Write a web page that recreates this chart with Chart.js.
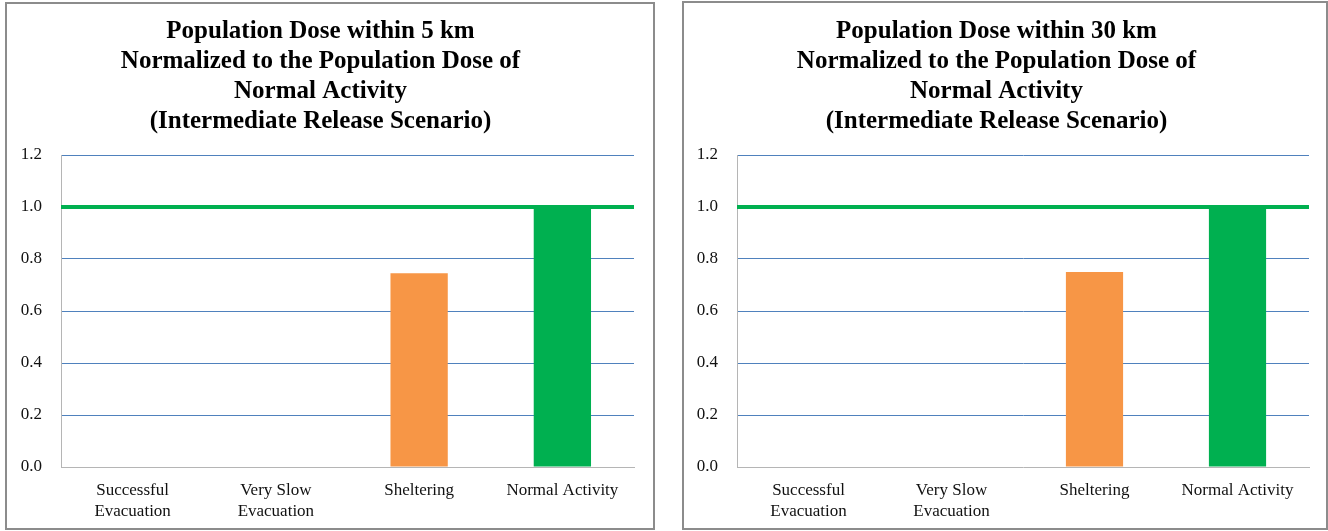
<!DOCTYPE html>
<html>
<head>
<meta charset="utf-8">
<script src="https://cdn.jsdelivr.net/npm/chart.js@4"></script>
<style>
  html, body { margin: 0; padding: 0; background: #ffffff; }
  .panel { position: absolute; border: 2px solid #8c8c8c; background: #ffffff; }
  .panel canvas { display: block; }
</style>
</head>
<body>
<div class="panel" style="left:5px; top:2px; width:646px; height:524px;">
  <canvas id="dose5" width="646" height="524"></canvas>
</div>
<div class="panel" style="left:682px; top:1px; width:642px; height:525px;">
  <canvas id="dose30" width="642" height="525"></canvas>
</div>
<script>
// Protective-action categories on the x axis
const categories = [
  ['Successful', 'Evacuation'],
  ['Very Slow', 'Evacuation'],
  'Sheltering',
  'Normal Activity'
];

// Population dose normalized to the normal-activity dose
const dose5km  = [0, 0, 0.745, 1.0];
const dose30km = [0, 0, 0.75, 1.0];

// Reference level (normal activity = 1.0)
const referenceLevel = [1.0, 1.0, 1.0, 1.0];

// Y axis tick values
const yTicks = [0, 0.2, 0.4, 0.6, 0.8, 1.0, 1.2];

const barColors = ['#f79646', '#f79646', '#f79646', '#00b050'];

const title5 = [
  'Population Dose within 5 km',
  'Normalized to the Population Dose of',
  'Normal Activity',
  '(Intermediate Release Scenario)'
];
const title30 = [
  'Population Dose within 30 km',
  'Normalized to the Population Dose of',
  'Normal Activity',
  '(Intermediate Release Scenario)'
];

const SERIF = '"Liberation Serif", "Times New Roman", serif';

function makePanel(id, titleLines, values, geom) {
  new Chart(document.getElementById(id), {
    type: 'bar',
    data: {
      labels: categories,
      datasets: [
        {
          type: 'line',
          data: referenceLevel,
          xAxisID: 'x2',
          borderColor: '#00b050',
          borderWidth: 4,
          pointRadius: 0,
          fill: false,
          clip: { left: 0, right: 4, top: 4, bottom: 4 },
          order: 0
        },
        {
          type: 'bar',
          data: values,
          xAxisID: 'x',
          grouped: false,
          backgroundColor: barColors,
          borderWidth: 0,
          categoryPercentage: 1.0,
          barPercentage: 0.4,
          order: 1
        }
      ]
    },
    options: {
      responsive: false,
      devicePixelRatio: 1,
      animation: false,
      layout: { padding: { left: 0, right: geom.right, top: 0, bottom: 0 } },
      plugins: {
        legend: { display: false },
        tooltip: { enabled: false },
        title: {
          display: true,
          text: titleLines,
          color: '#000000',
          font: { family: SERIF, size: 25, weight: 'bold', lineHeight: 1.2 },
          padding: { top: geom.titleTop, bottom: 151 + (geom.top - 151) - geom.titleTop - 120 }
        }
      },
      scales: {
        x: {
          offset: true,
          grid: { display: false, drawTicks: false },
          border: { display: true, color: '#b5b5b5', width: 1 },
          ticks: {
            color: '#111111',
            font: { family: SERIF, size: 17, lineHeight: 1.25 },
            padding: 13,
            autoSkip: false,
            maxRotation: 0
          },
          afterFit: (s) => { s.height = 61; }
        },
        x2: {
          type: 'category',
          labels: categories,
          offset: false,
          display: false
        },
        y: {
          min: 0,
          max: 1.2,
          afterBuildTicks: (s) => { s.ticks = yTicks.map(v => ({ value: v })); },
          grid: {
            drawTicks: false,
            color: (ctx) => (ctx.tick && ctx.tick.value === 0) ? 'rgba(0,0,0,0)' : '#4f81bd',
            lineWidth: 1
          },
          border: { display: true, color: '#b5b5b5', width: 1 },
          ticks: {
            color: '#111111',
            font: { family: SERIF, size: 17 },
            padding: 19,
            callback: (v) => Number(v).toFixed(1)
          },
          afterFit: (s) => { s.width = geom.left; }
        }
      }
    }
  });
}

makePanel('dose5', title5, dose5km, { left: 54, right: 19, titleTop: 13, top: 151 });
makePanel('dose30', title30, dose30km, { left: 53, right: 17, titleTop: 14, top: 152 });
</script>
</body>
</html>
